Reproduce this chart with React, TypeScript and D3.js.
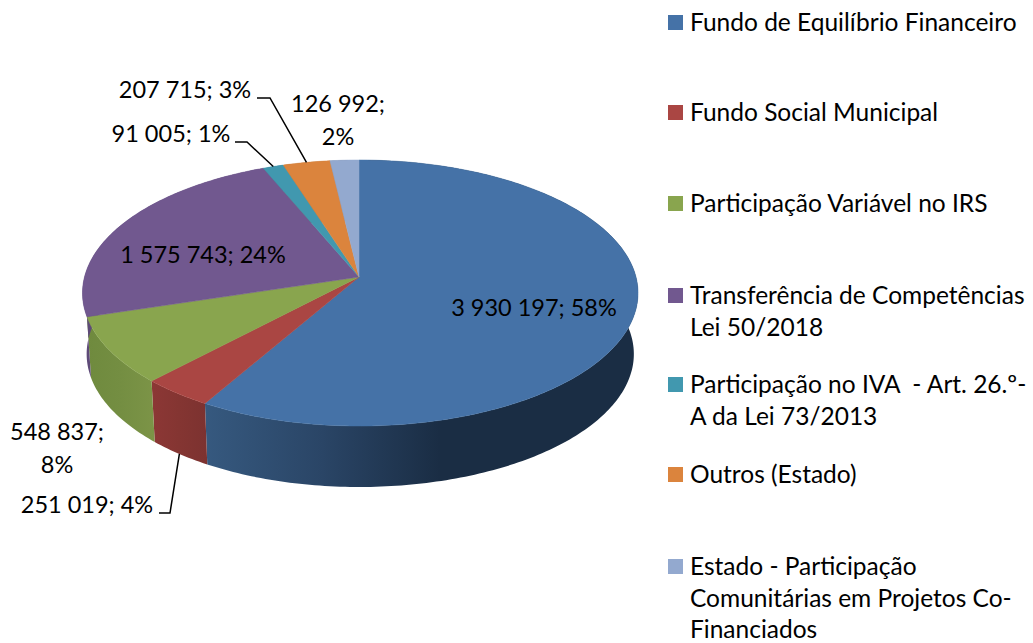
import { useEffect, useRef } from 'react';
import * as d3 from 'd3';

// series, clockwise from 12 o'clock
const legendLines = [
    ['Fundo de Equilíbrio Financeiro'],
    ['Fundo Social Municipal'],
    ['Participação Variável no IRS'],
    ['Transferência de Competências', 'Lei 50/2018'],
    ['Participação no IVA  - Art. 26.º-', 'A da Lei 73/2013'],
    ['Outros (Estado)'],
    ['Estado - Participação', 'Comunitárias em Projetos Co-', 'Financiados'],
];
const values = [3930197, 251019, 548837, 1575743, 91005, 207715, 126992];
const topColors = ['#4572a7', '#aa4643', '#89a54e', '#71588f', '#4198af', '#db843d', '#93a9cf'];
const sideStops = [
    ['#36597f', '#2a4566', '#1a2d44'],
    ['#8c3735', '#843532', '#7c3230'],
    ['#6f8a3e', '#748e42', '#7c9447'],
    ['#5e4a78', '#5e4a78', '#5e4a78'],
    ['#327488', '#327488', '#327488'],
    ['#a8652e', '#a8652e', '#a8652e'],
    ['#7283a0', '#7283a0', '#7283a0'],
];

// label text lines, anchor x and first baseline y
const labelLines = [
    ['3 930 197; 58%'],
    ['251 019; 4%'],
    ['548 837;', '8%'],
    ['1 575 743; 24%'],
    ['91 005; 1%'],
    ['207 715; 3%'],
    ['126 992;', '2%'],
];
const labelPos = [[534, 316], [87, 513], [57, 440], [203, 263], [171, 142], [185, 98], [338, 112]];
const legendBaselines = [31, 121, 212, 304, 393, 483, 575];
const FONT = 'Lato, Carlito, sans-serif';
const LABEL_SIZE = 23.5;
const LEGEND_SIZE = 24.5;

const cx = 359;
const apexY = 277;
const radiusRight = 277;
const radiusLeft = 274.5;
const persp = 0.1203; // top of the disc is further away
const tilt = 97.75;
const depth = 61;
const lowerScale = 0.985;

// perspective projection of a point on the disc rim
const project = (a: number, scale = 1, dy = 0): [number, number] => {
    const den = 1 + persp * Math.cos(a);
    const r = (Math.sin(a) < 0 ? radiusLeft : radiusRight) * scale;
    return [cx + (r * Math.sin(a)) / den, (-tilt * Math.cos(a) + apexY) / den + dy];
};

const App = () => {
    const ref = useRef<SVGSVGElement>(null);

    useEffect(() => {
        const svg = d3.select(ref.current);
        svg.selectAll('*').remove();

        const arcs = d3.pie<number>().sort(null)(values);
        const line = d3.line();
        const defs = svg.append('defs');
        const rimAngles = (d: d3.PieArcDatum<number>) => {
            const n = Math.max(4, Math.ceil((d.endAngle - d.startAngle) * 60));
            return d3.range(n + 1).map((i) => d.startAngle + ((d.endAngle - d.startAngle) * i) / n);
        };

        // side walls first, the top face hides the back of them
        arcs.forEach((d, i) => {
            const angles = rimAngles(d);
            const upper = angles.map((a) => project(a));
            const lower = angles.map((a) => project(a, lowerScale, depth)).reverse();
            const xs = upper.concat(lower).map((p) => p[0]);
            const x0 = d3.min(xs) as number;
            let x1 = d3.max(xs) as number;
            if (i === 0) x1 = 440; // main slice goes flat dark past here
            const grad = defs.append('linearGradient')
                .attr('id', `side${i}`)
                .attr('gradientUnits', 'userSpaceOnUse')
                .attr('x1', x0).attr('x2', x1).attr('y1', 0).attr('y2', 0);
            sideStops[i].forEach((c, k) => {
                grad.append('stop').attr('offset', `${k * 50}%`).attr('stop-color', c);
            });
            svg.append('path')
                .attr('d', `${line(upper.concat(lower))}Z`)
                .attr('fill', `url(#side${i})`);
        });

        // top faces
        arcs.forEach((d, i) => {
            const pts = [[cx, apexY] as [number, number]].concat(rimAngles(d).map((a) => project(a)));
            svg.append('path')
                .attr('d', `${line(pts)}Z`)
                .attr('fill', topColors[i])
                .attr('stroke', topColors[i])
                .attr('stroke-width', 0.5);
        });

        // leader lines
        const mid = (d: d3.PieArcDatum<number>) => (d.startAngle + d.endAngle) / 2;
        const leaders: [number, number][][] = [
            [[159, 513], [170, 513], project(mid(arcs[1]), lowerScale, depth)],
            [[235, 142], [247, 142], project(mid(arcs[4]))],
            [[257, 98], [270, 98], project(mid(arcs[5]))],
        ];
        leaders.forEach((pts) => {
            svg.append('path')
                .attr('d', line(pts))
                .attr('fill', 'none')
                .attr('stroke', '#000')
                .attr('stroke-width', 1.5);
        });

        // data labels
        labelLines.forEach((lines, i) => {
            lines.forEach((t, k) => {
                svg.append('text')
                    .attr('x', labelPos[i][0])
                    .attr('y', labelPos[i][1] + k * 33)
                    .attr('text-anchor', 'middle')
                    .attr('font-family', FONT)
                    .attr('font-size', LABEL_SIZE)
                    .attr('fill', '#000')
                    .text(t);
            });
        });

        // legend
        legendLines.forEach((lines, i) => {
            svg.append('rect')
                .attr('x', 668)
                .attr('y', legendBaselines[i] - 16)
                .attr('width', 15)
                .attr('height', 15)
                .attr('fill', topColors[i]);
            lines.forEach((t, k) => {
                svg.append('text')
                    .attr('x', 690)
                    .attr('y', legendBaselines[i] + k * 31.5)
                    .attr('font-family', FONT)
                    .attr('font-size', LEGEND_SIZE)
                    .attr('fill', '#000')
                    .style('white-space', 'pre')
                    .text(t);
            });
        });
    }, []);

    return (
        <svg
            ref={ref}
            width={1033}
            height={643}
            style={{ position: 'absolute', left: 0, top: 0, background: '#fff' }}
        />
    );
};

export default App;
